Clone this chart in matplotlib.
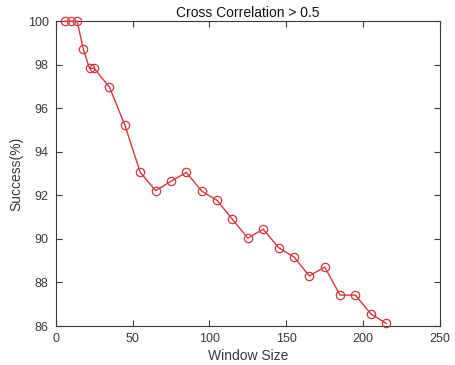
import matplotlib

matplotlib.use("Agg")
import matplotlib.pyplot as plt

# window sizes and success rates
window_size = [6, 10, 14, 18, 22, 25, 35, 45, 55, 65, 75, 85, 95, 105, 115,
               125, 135, 145, 155, 165, 175, 185, 195, 205, 215]
success = [100.0, 100.0, 100.0, 98.71, 97.84, 97.84, 96.97, 95.23, 93.06,
           92.22, 92.65, 93.06, 92.20, 91.77, 90.90, 90.04, 90.45, 89.60,
           89.17, 88.30, 88.71, 87.42, 87.42, 86.56, 86.12]

x_ticks = [0, 50, 100, 150, 200, 250]
y_ticks = [86, 88, 90, 92, 94, 96, 98, 100]

plt.rcParams.update({"font.family": ["Liberation Sans", "DejaVu Sans"]})

fig = plt.figure(figsize=(4.55, 3.65), dpi=100)
ax = fig.add_axes([0.1224, 0.1068, 0.8446, 0.8348])

ax.plot(window_size, success, "-o", color="#d9363e", lw=1.0,
        markersize=6, markerfacecolor="none", markeredgewidth=0.9,
        clip_on=False, zorder=3)

ax.set_xlim(0, 250)
ax.set_ylim(86, 100)
ax.set_xticks(x_ticks)
ax.set_yticks(y_ticks)

ax.tick_params(direction="in", top=True, right=True, length=4,
               labelsize=9, colors="#3a3a3a", width=0.8, pad=5)
for s in ax.spines.values():
    s.set_color("#3a3a3a")
    s.set_linewidth(0.8)

ax.set_title("Cross Correlation > 0.5", fontsize=10, color="#111111", pad=3)
ax.set_xlabel("Window Size", fontsize=10, color="#3a3a3a", labelpad=3)
ax.set_ylabel("Success(%)", fontsize=10, color="#3a3a3a", labelpad=3)

fig.savefig("out.png", dpi=100)
plt.close(fig)
